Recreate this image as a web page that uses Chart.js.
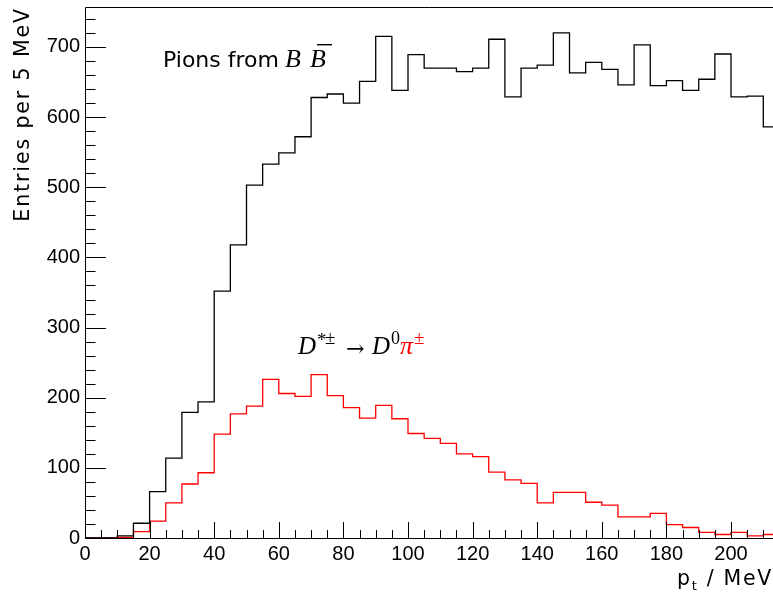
<!DOCTYPE html>
<html>
<head>
<meta charset="utf-8">
<script src="https://cdn.jsdelivr.net/npm/chart.js@4/dist/chart.umd.min.js"></script>
<style>
  html,body{margin:0;padding:0;background:#fff;}
  canvas{display:block;}
</style>
</head>
<body>
<canvas id="c" width="773" height="596"></canvas>
<script>
// ---- data (5 MeV bins, lower edges in MeV) ----
const binLowEdges = [0,5,10,15,20,25,30,35,40,45,50,55,60,65,70,75,80,85,90,95,100,105,110,115,120,125,130,135,140,145,150,155,160,165,170,175,180,185,190,195,200,205,210];
const lastUpperEdge = 215;
const pionsFromBB = [0,0,3,21,66,114,179,194,352,418,503,533,549,572,628,633,620,651,715,638,689,670,670,665,670,711,629,670,674,720,663,678,668,646,703,645,652,638,654,690,629,630,586];
const pionsFromDstar = [0,0,1,9,24,50,77,93,148,177,188,226,206,202,233,203,186,171,189,170,149,142,135,120,116,94,83,78,50,65,65,51,47,30,30,35,19,15,8,5,8,3,5];
const xTickLabels = ["0","20","40","60","80","100","120","140","160","180","200"];
const yTickLabels = ["0","100","200","300","400","500","600","700"];

function histPoints(vals){
  const pts = binLowEdges.map((x,i)=>({x:x, y:vals[i]}));
  pts.push({x:lastUpperEdge, y:vals[vals.length-1]});
  return pts;
}

const X_MAX = 213, Y_MAX = 757;

const decor = {
  id:'decor',
  afterDatasetsDraw(chart){
    const {ctx, chartArea:a, scales:{x, y}} = chart;
    ctx.save();
    ctx.strokeStyle = '#000';
    ctx.lineWidth = 1;
    // frame
    ctx.beginPath();
    ctx.moveTo(a.left+0.5, a.bottom+0.5); ctx.lineTo(a.left+0.5, a.top+0.5); ctx.lineTo(a.right, a.top+0.5);
    ctx.moveTo(a.left, a.bottom+0.5); ctx.lineTo(a.right, a.bottom+0.5);
    ctx.stroke();
    // x ticks (inside)
    ctx.beginPath();
    for(let v=0; v<=X_MAX; v+=5){
      const px = Math.round(x.getPixelForValue(v))+0.5;
      const len = (v%20===0)?16:8;
      ctx.moveTo(px, a.bottom); ctx.lineTo(px, a.bottom-len);
    }
    // y ticks (inside)
    for(let v=0; v<=Y_MAX; v+=20){
      const py = Math.round(y.getPixelForValue(v))+0.5;
      const len = (v%100===0)?21:10.5;
      ctx.moveTo(a.left, py); ctx.lineTo(a.left+len, py);
    }
    ctx.stroke();

    // axis titles
    ctx.fillStyle = '#000';
    ctx.textBaseline = 'alphabetic';
    // y title: rotated, aligned to top
    ctx.save();
    ctx.translate(28.5, 7);
    ctx.rotate(-Math.PI/2);
    ctx.font = '20.5px "DejaVu Sans"';
    ctx.textAlign = 'right';
    try{ ctx.letterSpacing = '1.9px'; }catch(e){}
    ctx.fillText('Entries per 5 MeV', 0, 0);
    ctx.restore();

    // x title "p_t / MeV", right aligned at 772
    ctx.save();
    try{ ctx.letterSpacing = '1.7px'; }catch(e){}
    ctx.font = '20.5px "DejaVu Sans"';
    ctx.textAlign = 'left';
    const tail = ' / MeV';
    const wP = ctx.measureText('p').width;
    ctx.font = '13px "DejaVu Sans"';
    const wT = ctx.measureText('t').width;
    ctx.font = '20.5px "DejaVu Sans"';
    const wTail = ctx.measureText(tail).width;
    let sx = 773 - (wP + wT + wTail);
    const by = 585;
    ctx.fillText('p', sx, by);
    ctx.font = '13px "DejaVu Sans"';
    ctx.fillText('t', sx + wP, by + 5);
    ctx.font = '20.5px "DejaVu Sans"';
    ctx.fillText(tail, sx + wP + wT, by);
    ctx.restore();

    // "Pions from B Bbar"
    ctx.save();
    ctx.font = '22px "DejaVu Sans"';
    ctx.textAlign = 'left';
    ctx.fillText('Pions from', 163, 67);
    ctx.font = 'italic 26px "Liberation Serif"';
    ctx.fillText('B', 285, 67);
    ctx.fillText('B', 310, 67);
    ctx.fillRect(317, 44, 15, 1.4);
    ctx.restore();

    // D*± → D0 π±
    ctx.save();
    ctx.textAlign = 'left';
    ctx.font = 'italic 25px "Liberation Serif"';
    ctx.fillText('D', 298, 354);
    ctx.font = '19px "Liberation Serif"';
    ctx.fillText('*', 317, 346);
    ctx.fillText('\u00B1', 325, 344);
    ctx.font = '22px "DejaVu Serif"';
    ctx.fillText('\u2192', 346, 356);
    ctx.font = 'italic 25px "Liberation Serif"';
    ctx.fillText('D', 372, 354);
    ctx.font = '18px "Liberation Serif"';
    ctx.fillText('0', 391, 344);
    ctx.fillStyle = '#ff0000';
    ctx.font = 'italic 26px "Liberation Serif"';
    ctx.fillText('\u03C0', 400, 354);
    ctx.font = '19px "Liberation Serif"';
    ctx.fillText('\u00B1', 414, 344);
    ctx.restore();

    ctx.restore();
  }
};

new Chart(document.getElementById('c'), {
  type:'line',
  data:{
    datasets:[
      {label:'Pions from BB', data: histPoints(pionsFromBB), borderColor:'#000000', borderWidth:1.3, stepped:'before', pointRadius:0, fill:false},
      {label:'D*± → D0π±', data: histPoints(pionsFromDstar), borderColor:'#ff0000', borderWidth:1.3, stepped:'before', pointRadius:0, fill:false}
    ]
  },
  options:{
    responsive:false,
    animation:false,
    layout:{padding:{top:7, right:0, left:0, bottom:0}},
    plugins:{legend:{display:false}, tooltip:{enabled:false}, title:{display:false}},
    scales:{
      x:{
        type:'linear', min:0, max:X_MAX,
        afterFit(s){ s.height = 58; s.paddingLeft = 0; s.paddingRight = 0; },
        grid:{display:false, drawTicks:false},
        border:{display:false},
        ticks:{
          stepSize:20, includeBounds:false, autoSkip:false, maxRotation:0, minRotation:0,
          padding:4, color:'#000', font:{family:'"Liberation Sans", Arial', size:20},
          callback:(v)=>{ const i = xTickLabels.indexOf(String(v)); return i>=0 ? xTickLabels[i] : ''; }
        }
      },
      y:{
        type:'linear', min:0, max:Y_MAX,
        afterFit(s){ s.width = 85; s.paddingTop = 0; s.paddingBottom = 0; },
        grid:{display:false, drawTicks:false},
        border:{display:false},
        ticks:{
          stepSize:100, includeBounds:false, autoSkip:false,
          padding:5, color:'#000', font:{family:'"Liberation Sans", Arial', size:20},
          callback:(v)=>{ const i = yTickLabels.indexOf(String(v)); return i>=0 ? yTickLabels[i] : ''; }
        }
      }
    }
  },
  plugins:[decor]
});
</script>
</body>
</html>
